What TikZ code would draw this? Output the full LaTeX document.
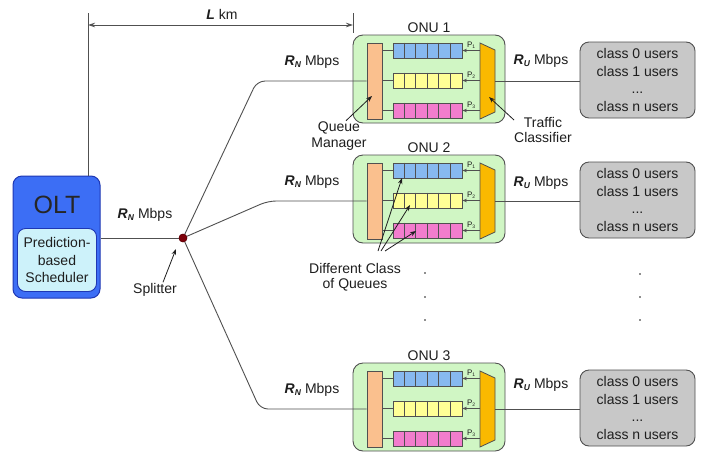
\documentclass[tikz,border=0pt]{standalone}
\usepackage{fontspec}
\setmainfont{Liberation Sans}
\usetikzlibrary{arrows.meta}
\definecolor{oltblue}{RGB}{60,110,245}
\definecolor{oltedge}{RGB}{30,55,180}
\definecolor{schedfill}{RGB}{205,242,250}
\definecolor{onugreen}{RGB}{208,246,196}
\definecolor{peach}{RGB}{250,192,142}
\definecolor{qblue}{RGB}{135,185,240}
\definecolor{qyellow}{RGB}{255,255,150}
\definecolor{qpink}{RGB}{242,125,205}
\definecolor{tcorange}{RGB}{250,185,0}
\definecolor{usergrey}{RGB}{200,200,200}
\definecolor{edgegrey}{RGB}{80,80,80}
\definecolor{splitred}{RGB}{125,0,10}
\definecolor{txt}{RGB}{30,30,30}
\newcommand\ratelab[2]{\textbf{\textit{#1}}\raisebox{-2pt}{\fontsize{8.5}{8.5}\selectfont\textbf{\textit{#2}}} Mbps}
\newcommand\plab[1]{P\raisebox{-1pt}{\fontsize{5}{5}\selectfont #1}}
\tikzset{
  lbl/.style={text=txt, inner sep=1pt, font=\fontsize{14}{15.5}\selectfont, align=center},
  link/.style={draw=edgegrey, line width=0.9pt},
  ptr/.style={draw=txt, line width=0.8pt, -{Stealth[length=6pt,width=4.5pt]}},
  qarr/.style={draw=edgegrey, line width=0.7pt, -{Stealth[length=4.5pt,width=3.5pt]}},
  onubox/.style={draw=edgegrey, fill=onugreen, line width=0.9pt, rounded corners=10pt, minimum width=152pt, minimum height=88pt, inner sep=0pt},
  qmbox/.style={draw=edgegrey, fill=peach, line width=0.8pt, minimum width=15pt, minimum height=76pt, inner sep=0pt},
  qbox/.style={draw=edgegrey, line width=0.8pt, minimum width=69pt, minimum height=15pt, inner sep=0pt},
  tcshape/.style={draw=edgegrey, fill=tcorange, line width=0.8pt},
  userbox/.style={draw=edgegrey, fill=usergrey, line width=0.9pt, rounded corners=9pt, minimum width=115pt, minimum height=76pt, inner sep=0pt, align=center, text=txt, font=\fontsize{14}{17.5}\selectfont},
  plabel/.style={text=txt, inner sep=0.5pt, font=\fontsize{8}{8}\selectfont},
  dotmark/.style={circle, fill=txt, inner sep=0pt, minimum size=1.8pt}
}
\newcommand\drawonu[2]{%
  \node[onubox] (onu#1) at (429,#2+44) {};
  \node[lbl, anchor=south] (onulab#1) at ([yshift=1pt]onu#1.north) {ONU #1};
  \node[qbox, fill=qblue] (qa#1) at (427.5,#2+15.5) {};
  \node[qbox, fill=qyellow] (qb#1) at (427.5,#2+45.5) {};
  \node[qbox, fill=qpink] (qc#1) at (427.5,#2+75.5) {};
  \foreach \q in {a,b,c}{\foreach \k in {1,...,5}{%
    \draw[edgegrey, line width=0.7pt] ([xshift=\k*11.5pt]q\q#1.north west) -- ([xshift=\k*11.5pt]q\q#1.south west);}}
  \node[qmbox] (qm#1) at (374.5,#2+46) {};
  \foreach \q in {a,b,c}{\draw[link, line width=0.8pt] (qm#1.east |- q\q#1.west) -- (q\q#1.west);}
  \draw[tcshape] (480,#2+8) -- (495,#2+15) -- (495,#2+77) -- (480,#2+84) -- cycle;
  \coordinate (tc#1) at (487.5,#2+46);
  \coordinate (tco#1) at (495,#2+46);
  \coordinate (tca#1) at (480,#2+15.5);
  \coordinate (tcb#1) at (480,#2+45.5);
  \coordinate (tcc#1) at (480,#2+75.5);
  \draw[qarr] (tca#1) -- (qa#1.east) node[plabel, midway, above=1.5pt] {\plab{1}};
  \draw[qarr] (tcb#1) -- (qb#1.east) node[plabel, midway, above=1.5pt] {\plab{2}};
  \draw[qarr] (tcc#1) -- (qc#1.east) node[plabel, midway, above=1.5pt] {\plab{3}};
  \node[userbox] (users#1) at (637.5,#2+45) {class 0 users\\class 1 users\\...\\class n users};
  \draw[link] (tco#1) -- (users#1.west |- tco#1);
}
\begin{document}
\begin{tikzpicture}[x=1pt, y=-1pt]
\useasboundingbox (0,0) rectangle (708,453);
\fill[white] (0,0) rectangle (708,453);

% OLT
\node[draw=oltedge, fill=oltblue, line width=1pt, rounded corners=9pt, minimum width=87pt, minimum height=122pt, inner sep=0pt] (olt) at (56.5,237) {};
\node[lbl, font=\fontsize{25}{25}\selectfont, text=black!85] (oltlab) at (57,205) {OLT};
\node[draw=oltedge, fill=schedfill, line width=0.9pt, rounded corners=8pt, minimum width=79pt, minimum height=63pt, inner sep=0pt, align=center, text=txt, font=\fontsize{14}{17.5}\selectfont] (sched) at (57,260) {Prediction-\\based\\Scheduler};

% ONUs
\drawonu{1}{35}
\drawonu{2}{155}
\drawonu{3}{363}

% splitter
\node[circle, fill=splitred, draw=splitred!70!black, inner sep=0pt, minimum size=8pt] (split) at (183,238) {};
\draw[link] (olt.east |- split) -- (split);
\draw[link, rounded corners=8pt] (split) -- (257,81) -- (qm1.west);
\draw[link, rounded corners=8pt] (split) -- (268,201) -- (qm2.west);
\draw[link, rounded corners=8pt] (split) -- (260,409) -- (qm3.west);
\node[circle, fill=splitred, draw=splitred!70!black, inner sep=0pt, minimum size=8pt] at (split) {};

\node[lbl] (rn0) at (145,215) {\ratelab{R}{N}};
\node[lbl] (rn1) at (312,62) {\ratelab{R}{N}};
\node[lbl] (rn2) at (312,182) {\ratelab{R}{N}};
\node[lbl] (rn3) at (312,390) {\ratelab{R}{N}};
\node[lbl] (ru1) at (541,61) {\ratelab{R}{U}};
\node[lbl] (ru2) at (541,183) {\ratelab{R}{U}};
\node[lbl] (ru3) at (541,385) {\ratelab{R}{U}};

% splitter label
\node[lbl] (spl) at (155,290) {Splitter};
\coordinate (spltip) at (176,249);
\draw[ptr] ([xshift=8pt]spl.north) -- (spltip);

% L km dimension
\coordinate (dimLt) at (88,13);
\coordinate (dimRt) at (353,13);
\coordinate (dimRb) at (353,33);
\coordinate (dimA) at (88,25);
\coordinate (dimB) at (353,25);
\draw[link] (dimLt) -- (dimLt |- olt.north);
\draw[link] (dimRt) -- (dimRb);
\draw[link, {Stealth[length=7pt,width=4.5pt]}-{Stealth[length=7pt,width=4.5pt]}] (dimA) -- (dimB);
\node[lbl] (lkm) at (222,14) {\textbf{\textit{L}} km};

% Queue manager label
\node[lbl] (qmlab) at (339,136) {Queue\\Manager};
\coordinate (qmtip) at (372,96);
\draw[ptr] ([xshift=7pt]qmlab.north) -- (qmtip);

% Traffic classifier label
\node[lbl] (tclab) at (543,130) {Traffic\\Classifier};
\coordinate (tctail) at (514,120);
\coordinate (tctip) at (489,97);
\draw[ptr] (tctail) -- (tctip);

% Different class of queues
\node[lbl] (dclab) at (355,277) {Different Class\\of Queues};
\coordinate (dc1) at (378,251);
\coordinate (dc2) at (381,251);
\coordinate (dc3) at (385,251);
\coordinate (dct1) at (402,178);
\coordinate (dct2) at (410,205);
\coordinate (dct3) at (416,231);
\draw[ptr] (dc1) -- (dct1);
\draw[ptr] (dc2) -- (dct2);
\draw[ptr] (dc3) -- (dct3);

% ellipsis dots
\node[dotmark] (d1) at (425,273) {};
\node[dotmark] (d2) at (425,297) {};
\node[dotmark] (d3) at (425,320) {};
\node[dotmark] (d4) at (640,274) {};
\node[dotmark] (d5) at (640,297) {};
\node[dotmark] (d6) at (640,320) {};
\end{tikzpicture}
\end{document}
